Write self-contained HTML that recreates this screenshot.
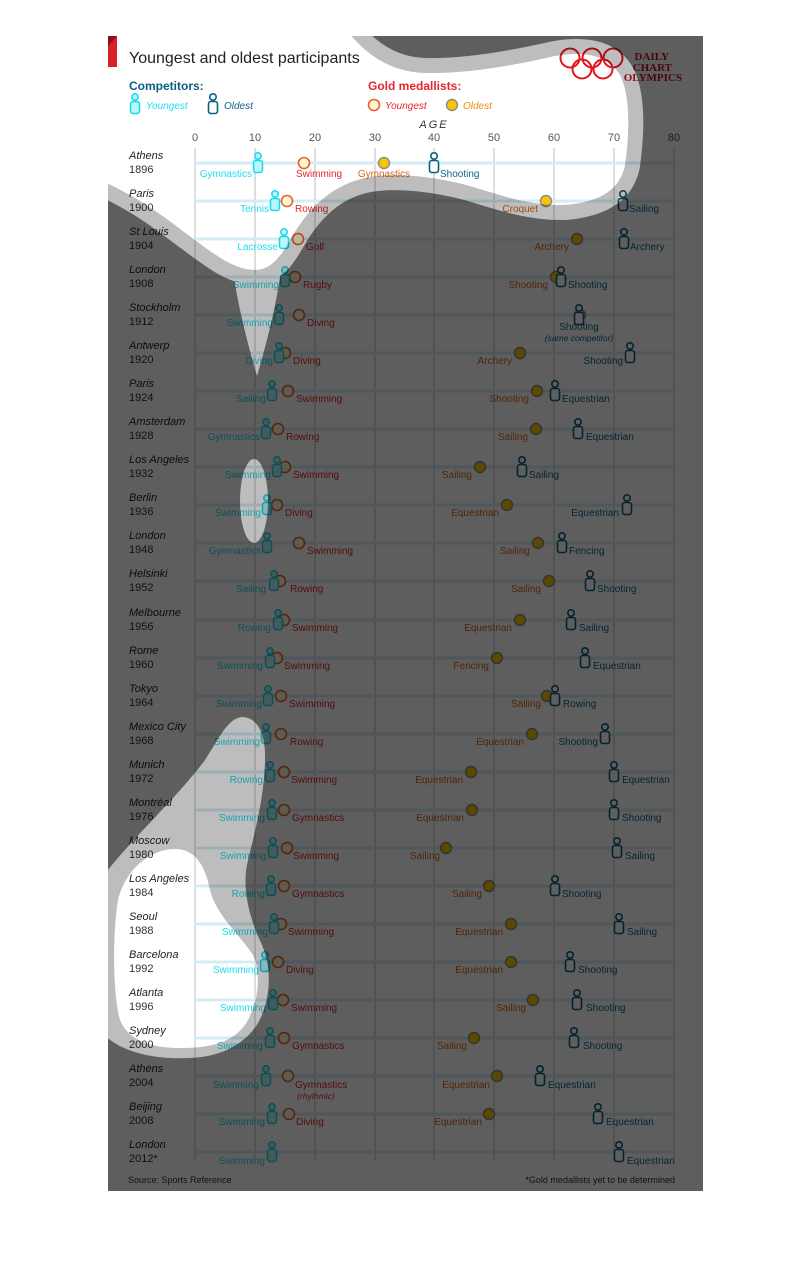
<!DOCTYPE html>
<html><head><meta charset="utf-8"><style>
html,body{margin:0;padding:0;background:#fff}
svg{display:block}
.t{font:16px "Liberation Sans",sans-serif;fill:#222}
.h{font:bold 12px "Liberation Sans",sans-serif}
.lg{font:italic 10px "Liberation Sans",sans-serif}
.tk{font:11px "Liberation Sans",sans-serif;fill:#555;text-anchor:middle}
.c{font:italic 11px "Liberation Sans",sans-serif;fill:#222}
.yr{font:11px "Liberation Sans",sans-serif;fill:#333}
.l{font:10px "Liberation Sans",sans-serif}
.ly{fill:#1fdcef;text-anchor:end}
.lo{fill:#0d6689}
.lr{fill:#e5252a}
.lgo{fill:#d86512;text-anchor:end}
.rl{fill:#d4ecf4}
.gy{fill:#fff6d6;stroke:#e8622a;stroke-width:1.6}
.go{fill:#f7c600;stroke:#8a8a8a;stroke-width:1.4}
</style></head><body>
<svg width="810" height="1286" viewBox="0 0 810 1286" xmlns="http://www.w3.org/2000/svg">
<defs>
<g id="fy"><circle cx="0" cy="-7" r="3.2" fill="#b8f7fc" stroke="#19d8ea" stroke-width="1.5"/><rect x="-4.5" y="-2.5" width="9" height="12" rx="2.5" fill="#b8f7fc" stroke="#19d8ea" stroke-width="1.5"/></g>
<g id="fo"><circle cx="0" cy="-7" r="3.2" fill="#fff" stroke="#0b5f80" stroke-width="1.6"/><rect x="-4.5" y="-2.5" width="9" height="12" rx="2.5" fill="#fff" stroke="#0b5f80" stroke-width="1.6"/></g>
<mask id="mA"><rect x="0" y="0" width="810" height="1286" fill="#fff"/>
<path d="M100,28 L345,28 C360,48 385,72 425,73 C470,74 520,64 555,56 C590,50 610,58 620,75 C630,95 630,130 625,165 C620,190 600,202 565,205 C530,206 500,195 470,186 C440,178 400,172 370,177 C335,183 310,205 290,240 C280,258 270,270 255,270 C235,270 215,255 195,240 C170,222 145,200 100,180 Z" fill="#000"/>
<path d="M175,849 C195,849 205,865 210,890 C216,915 240,935 253,955 C262,975 258,1005 245,1025 C230,1045 205,1048 180,1048 C150,1048 128,1040 120,1020 C112,990 113,930 118,900 C125,870 150,849 175,849 Z" fill="#000"/>
</mask>
<mask id="mB"><rect x="0" y="0" width="810" height="1286" fill="#fff"/>
<path d="M100,28 L345,28 C360,48 385,72 425,73 C470,74 520,64 555,56 C590,50 610,58 620,75 C630,95 630,130 625,165 C620,190 600,202 565,205 C530,206 500,195 470,186 C440,178 400,172 370,177 C335,183 310,205 290,240 C280,258 270,270 255,270 C235,270 215,255 195,240 C170,222 145,200 100,180 Z" fill="#000" stroke="#000" stroke-width="30"/>
<path d="M232,262 C236,300 248,345 257,376 C266,345 278,300 282,262 Z" fill="#000"/>
<ellipse cx="254" cy="501" rx="14" ry="42" fill="#000"/>
<path d="M243,717 C258,718 266,735 265,760 C264,800 255,830 247,865 C242,890 250,920 262,945 C272,968 270,995 262,1015 C252,1040 225,1057 190,1058 C150,1060 115,1050 100,1030 L100,880 C130,840 175,800 205,760 C218,740 228,717 243,717 Z" fill="#000"/>
</mask>
</defs>
<rect x="108" y="36" width="595" height="1155" fill="#fff"/>
<polygon points="108,36 117,36 117,67 108,67" fill="#d8202a"/>
<polygon points="108,36 117,36 108,46" fill="#8a1018"/>
<text x="129" y="63" class="t">Youngest and oldest participants</text>
<g fill="none" stroke="#e5141e" stroke-width="2"><circle cx="570" cy="58" r="9.5"/><circle cx="592" cy="58" r="9.5"/><circle cx="613" cy="58" r="9.5"/><circle cx="582" cy="69" r="9.5"/><circle cx="603" cy="69" r="9.5"/></g>
<g font-family="Liberation Serif,serif" font-weight="bold" font-size="11" fill="#c4161e" text-anchor="end"><text x="669" y="60">DAILY</text><text x="672" y="71">CHART</text><text x="682" y="81">OLYMPICS</text></g>
<text x="129" y="90" class="h" fill="#0b5d80">Competitors:</text>
<use href="#fy" x="135" y="104"/><text x="146" y="109" class="lg" fill="#1fdcef">Youngest</text>
<use href="#fo" x="213" y="104"/><text x="224" y="109" class="lg" fill="#0d6689">Oldest</text>
<text x="368" y="90" class="h" fill="#e5252a">Gold medallists:</text>
<circle cx="374" cy="105" r="5.5" class="gy"/><text x="385" y="109" class="lg" fill="#e5252a">Youngest</text>
<circle cx="452" cy="105" r="5.5" class="go"/><text x="463" y="109" class="lg" fill="#f08a10">Oldest</text>
<text x="434" y="128" font-family="Liberation Sans,sans-serif" font-style="italic" font-size="11" fill="#333" text-anchor="middle" letter-spacing="2">AGE</text>
<g class="tk"><text x="195" y="141">0</text><text x="255" y="141">10</text><text x="315" y="141">20</text><text x="375" y="141">30</text><text x="434" y="141">40</text><text x="494" y="141">50</text><text x="554" y="141">60</text><text x="614" y="141">70</text><text x="674" y="141">80</text></g>
<g stroke="#c8c8c8" stroke-width="1.2"><line x1="195" y1="148" x2="195" y2="1160"/><line x1="255" y1="148" x2="255" y2="1160"/><line x1="315" y1="148" x2="315" y2="1160"/><line x1="375" y1="148" x2="375" y2="1160"/><line x1="434" y1="148" x2="434" y2="1160"/><line x1="494" y1="148" x2="494" y2="1160"/><line x1="554" y1="148" x2="554" y2="1160"/><line x1="614" y1="148" x2="614" y2="1160"/><line x1="674" y1="148" x2="674" y2="1160"/></g>

<g transform="translate(0,163)"><rect x="195" y="-1.5" width="479" height="3" class="rl"/><text x="129" y="-4" class="c">Athens</text><text x="129" y="10" class="yr">1896</text>
<circle cx="304" r="5.5" class="gy"/><circle cx="384" r="5.5" class="go"/><use href="#fy" x="258"/><use href="#fo" x="434"/>
<g class="l"><text x="252" y="14" class="ly">Gymnastics</text><text x="296" y="14" class="lr">Swimming</text><text x="384" y="14" class="lgo" style="text-anchor:middle">Gymnastics</text><text x="440" y="14" class="lo">Shooting</text></g></g>

<g transform="translate(0,201)"><rect x="195" y="-1.5" width="479" height="3" class="rl"/><text x="129" y="-4" class="c">Paris</text><text x="129" y="10" class="yr">1900</text>
<circle cx="287" r="5.5" class="gy"/><circle cx="546" r="5.5" class="go"/><use href="#fy" x="275"/><use href="#fo" x="623"/>
<g class="l"><text x="269" y="11" class="ly">Tennis</text><text x="295" y="11" class="lr">Rowing</text><text x="538" y="11" class="lgo">Croquet</text><text x="629" y="11" class="lo">Sailing</text></g></g>

<g transform="translate(0,239)"><rect x="195" y="-1.5" width="479" height="3" class="rl"/><text x="129" y="-4" class="c">St Louis</text><text x="129" y="10" class="yr">1904</text>
<circle cx="298" r="5.5" class="gy"/><circle cx="577" r="5.5" class="go"/><use href="#fy" x="284"/><use href="#fo" x="624"/>
<g class="l"><text x="278" y="11" class="ly">Lacrosse</text><text x="306" y="11" class="lr">Golf</text><text x="569" y="11" class="lgo">Archery</text><text x="630" y="11" class="lo">Archery</text></g></g>

<g transform="translate(0,277)"><rect x="195" y="-1.5" width="479" height="3" class="rl"/><text x="129" y="-4" class="c">London</text><text x="129" y="10" class="yr">1908</text>
<circle cx="295" r="5.5" class="gy"/><circle cx="556" r="5.5" class="go"/><use href="#fy" x="285"/><use href="#fo" x="561"/>
<g class="l"><text x="279" y="11" class="ly">Swimming</text><text x="303" y="11" class="lr">Rugby</text><text x="548" y="11" class="lgo">Shooting</text><text x="568" y="11" class="lo">Shooting</text></g></g>

<g transform="translate(0,315)"><rect x="195" y="-1.5" width="479" height="3" class="rl"/><text x="129" y="-4" class="c">Stockholm</text><text x="129" y="10" class="yr">1912</text>
<circle cx="299" r="5.5" class="gy"/><circle cx="580" r="5.5" class="go"/><use href="#fy" x="279"/><use href="#fo" x="579"/>
<g class="l"><text x="273" y="11" class="ly">Swimming</text><text x="307" y="11" class="lr">Diving</text><text x="579" y="15" class="lo" text-anchor="middle">Shooting</text><text x="579" y="26" class="lo" text-anchor="middle" font-style="italic" font-size="8.5">(same competitor)</text></g></g>

<g transform="translate(0,353)"><rect x="195" y="-1.5" width="479" height="3" class="rl"/><text x="129" y="-4" class="c">Antwerp</text><text x="129" y="10" class="yr">1920</text>
<circle cx="285" r="5.5" class="gy"/><circle cx="520" r="5.5" class="go"/><use href="#fy" x="279"/><use href="#fo" x="630"/>
<g class="l"><text x="273" y="11" class="ly">Diving</text><text x="293" y="11" class="lr">Diving</text><text x="512" y="11" class="lgo">Archery</text><text x="623" y="11" class="lo" text-anchor="end">Shooting</text></g></g>

<g transform="translate(0,391)"><rect x="195" y="-1.5" width="479" height="3" class="rl"/><text x="129" y="-4" class="c">Paris</text><text x="129" y="10" class="yr">1924</text>
<circle cx="288" r="5.5" class="gy"/><circle cx="537" r="5.5" class="go"/><use href="#fy" x="272"/><use href="#fo" x="555"/>
<g class="l"><text x="266" y="11" class="ly">Sailing</text><text x="296" y="11" class="lr">Swimming</text><text x="529" y="11" class="lgo">Shooting</text><text x="562" y="11" class="lo">Equestrian</text></g></g>

<g transform="translate(0,429)"><rect x="195" y="-1.5" width="479" height="3" class="rl"/><text x="129" y="-4" class="c">Amsterdam</text><text x="129" y="10" class="yr">1928</text>
<circle cx="278" r="5.5" class="gy"/><circle cx="536" r="5.5" class="go"/><use href="#fy" x="266"/><use href="#fo" x="578"/>
<g class="l"><text x="260" y="11" class="ly">Gymnastics</text><text x="286" y="11" class="lr">Rowing</text><text x="528" y="11" class="lgo">Sailing</text><text x="586" y="11" class="lo">Equestrian</text></g></g>

<g transform="translate(0,467)"><rect x="195" y="-1.5" width="479" height="3" class="rl"/><text x="129" y="-4" class="c">Los Angeles</text><text x="129" y="10" class="yr">1932</text>
<circle cx="285" r="5.5" class="gy"/><circle cx="480" r="5.5" class="go"/><use href="#fy" x="277"/><use href="#fo" x="522"/>
<g class="l"><text x="271" y="11" class="ly">Swimming</text><text x="293" y="11" class="lr">Swimming</text><text x="472" y="11" class="lgo">Sailing</text><text x="529" y="11" class="lo">Sailing</text></g></g>

<g transform="translate(0,505)"><rect x="195" y="-1.5" width="479" height="3" class="rl"/><text x="129" y="-4" class="c">Berlin</text><text x="129" y="10" class="yr">1936</text>
<circle cx="277" r="5.5" class="gy"/><circle cx="507" r="5.5" class="go"/><use href="#fy" x="267"/><use href="#fo" x="627"/>
<g class="l"><text x="261" y="11" class="ly">Swimming</text><text x="285" y="11" class="lr">Diving</text><text x="499" y="11" class="lgo">Equestrian</text><text x="619" y="11" class="lo" text-anchor="end">Equestrian</text></g></g>

<g transform="translate(0,543)"><rect x="195" y="-1.5" width="479" height="3" class="rl"/><text x="129" y="-4" class="c">London</text><text x="129" y="10" class="yr">1948</text>
<circle cx="299" r="5.5" class="gy"/><circle cx="538" r="5.5" class="go"/><use href="#fy" x="267"/><use href="#fo" x="562"/>
<g class="l"><text x="261" y="11" class="ly">Gymnastics</text><text x="307" y="11" class="lr">Swimming</text><text x="530" y="11" class="lgo">Sailing</text><text x="569" y="11" class="lo">Fencing</text></g></g>

<g transform="translate(0,581)"><rect x="195" y="-1.5" width="479" height="3" class="rl"/><text x="129" y="-4" class="c">Helsinki</text><text x="129" y="10" class="yr">1952</text>
<circle cx="280" r="5.5" class="gy"/><circle cx="549" r="5.5" class="go"/><use href="#fy" x="274"/><use href="#fo" x="590"/>
<g class="l"><text x="266" y="11" class="ly">Sailing</text><text x="290" y="11" class="lr">Rowing</text><text x="541" y="11" class="lgo">Sailing</text><text x="597" y="11" class="lo">Shooting</text></g></g>

<g transform="translate(0,620)"><rect x="195" y="-1.5" width="479" height="3" class="rl"/><text x="129" y="-4" class="c">Melbourne</text><text x="129" y="10" class="yr">1956</text>
<circle cx="284" r="5.5" class="gy"/><circle cx="520" r="5.5" class="go"/><use href="#fy" x="278"/><use href="#fo" x="571"/>
<g class="l"><text x="271" y="11" class="ly">Rowing</text><text x="292" y="11" class="lr">Swimming</text><text x="512" y="11" class="lgo">Equestrian</text><text x="579" y="11" class="lo">Sailing</text></g></g>

<g transform="translate(0,658)"><rect x="195" y="-1.5" width="479" height="3" class="rl"/><text x="129" y="-4" class="c">Rome</text><text x="129" y="10" class="yr">1960</text>
<circle cx="277" r="5.5" class="gy"/><circle cx="497" r="5.5" class="go"/><use href="#fy" x="270"/><use href="#fo" x="585"/>
<g class="l"><text x="263" y="11" class="ly">Swimming</text><text x="284" y="11" class="lr">Swimming</text><text x="489" y="11" class="lgo">Fencing</text><text x="593" y="11" class="lo">Equestrian</text></g></g>

<g transform="translate(0,696)"><rect x="195" y="-1.5" width="479" height="3" class="rl"/><text x="129" y="-4" class="c">Tokyo</text><text x="129" y="10" class="yr">1964</text>
<circle cx="281" r="5.5" class="gy"/><circle cx="547" r="5.5" class="go"/><use href="#fy" x="268"/><use href="#fo" x="555"/>
<g class="l"><text x="262" y="11" class="ly">Swimming</text><text x="289" y="11" class="lr">Swimming</text><text x="541" y="11" class="lgo">Sailing</text><text x="563" y="11" class="lo">Rowing</text></g></g>

<g transform="translate(0,734)"><rect x="195" y="-1.5" width="479" height="3" class="rl"/><text x="129" y="-4" class="c">Mexico City</text><text x="129" y="10" class="yr">1968</text>
<circle cx="281" r="5.5" class="gy"/><circle cx="532" r="5.5" class="go"/><use href="#fy" x="266"/><use href="#fo" x="605"/>
<g class="l"><text x="260" y="11" class="ly">Swimming</text><text x="290" y="11" class="lr">Rowing</text><text x="524" y="11" class="lgo">Equestrian</text><text x="598" y="11" class="lo" text-anchor="end">Shooting</text></g></g>

<g transform="translate(0,772)"><rect x="195" y="-1.5" width="479" height="3" class="rl"/><text x="129" y="-4" class="c">Munich</text><text x="129" y="10" class="yr">1972</text>
<circle cx="284" r="5.5" class="gy"/><circle cx="471" r="5.5" class="go"/><use href="#fy" x="270"/><use href="#fo" x="614"/>
<g class="l"><text x="263" y="11" class="ly">Rowing</text><text x="291" y="11" class="lr">Swimming</text><text x="463" y="11" class="lgo">Equestrian</text><text x="622" y="11" class="lo">Equestrian</text></g></g>

<g transform="translate(0,810)"><rect x="195" y="-1.5" width="479" height="3" class="rl"/><text x="129" y="-4" class="c">Montréal</text><text x="129" y="10" class="yr">1976</text>
<circle cx="284" r="5.5" class="gy"/><circle cx="472" r="5.5" class="go"/><use href="#fy" x="272"/><use href="#fo" x="614"/>
<g class="l"><text x="265" y="11" class="ly">Swimming</text><text x="292" y="11" class="lr">Gymnastics</text><text x="464" y="11" class="lgo">Equestrian</text><text x="622" y="11" class="lo">Shooting</text></g></g>

<g transform="translate(0,848)"><rect x="195" y="-1.5" width="479" height="3" class="rl"/><text x="129" y="-4" class="c">Moscow</text><text x="129" y="10" class="yr">1980</text>
<circle cx="287" r="5.5" class="gy"/><circle cx="446" r="5.5" class="go"/><use href="#fy" x="273"/><use href="#fo" x="617"/>
<g class="l"><text x="266" y="11" class="ly">Swimming</text><text x="293" y="11" class="lr">Swimming</text><text x="440" y="11" class="lgo">Sailing</text><text x="625" y="11" class="lo">Sailing</text></g></g>

<g transform="translate(0,886)"><rect x="195" y="-1.5" width="479" height="3" class="rl"/><text x="129" y="-4" class="c">Los Angeles</text><text x="129" y="10" class="yr">1984</text>
<circle cx="284" r="5.5" class="gy"/><circle cx="489" r="5.5" class="go"/><use href="#fy" x="271"/><use href="#fo" x="555"/>
<g class="l"><text x="265" y="11" class="ly">Rowing</text><text x="292" y="11" class="lr">Gymnastics</text><text x="482" y="11" class="lgo">Sailing</text><text x="562" y="11" class="lo">Shooting</text></g></g>

<g transform="translate(0,924)"><rect x="195" y="-1.5" width="479" height="3" class="rl"/><text x="129" y="-4" class="c">Seoul</text><text x="129" y="10" class="yr">1988</text>
<circle cx="281" r="5.5" class="gy"/><circle cx="511" r="5.5" class="go"/><use href="#fy" x="274"/><use href="#fo" x="619"/>
<g class="l"><text x="268" y="11" class="ly">Swimming</text><text x="288" y="11" class="lr">Swimming</text><text x="503" y="11" class="lgo">Equestrian</text><text x="627" y="11" class="lo">Sailing</text></g></g>

<g transform="translate(0,962)"><rect x="195" y="-1.5" width="479" height="3" class="rl"/><text x="129" y="-4" class="c">Barcelona</text><text x="129" y="10" class="yr">1992</text>
<circle cx="278" r="5.5" class="gy"/><circle cx="511" r="5.5" class="go"/><use href="#fy" x="265"/><use href="#fo" x="570"/>
<g class="l"><text x="259" y="11" class="ly">Swimming</text><text x="286" y="11" class="lr">Diving</text><text x="503" y="11" class="lgo">Equestrian</text><text x="578" y="11" class="lo">Shooting</text></g></g>

<g transform="translate(0,1000)"><rect x="195" y="-1.5" width="479" height="3" class="rl"/><text x="129" y="-4" class="c">Atlanta</text><text x="129" y="10" class="yr">1996</text>
<circle cx="283" r="5.5" class="gy"/><circle cx="533" r="5.5" class="go"/><use href="#fy" x="273"/><use href="#fo" x="577"/>
<g class="l"><text x="266" y="11" class="ly">Swimming</text><text x="291" y="11" class="lr">Swimming</text><text x="526" y="11" class="lgo">Sailing</text><text x="586" y="11" class="lo">Shooting</text></g></g>

<g transform="translate(0,1038)"><rect x="195" y="-1.5" width="479" height="3" class="rl"/><text x="129" y="-4" class="c">Sydney</text><text x="129" y="10" class="yr">2000</text>
<circle cx="284" r="5.5" class="gy"/><circle cx="474" r="5.5" class="go"/><use href="#fy" x="270"/><use href="#fo" x="574"/>
<g class="l"><text x="263" y="11" class="ly">Swimming</text><text x="292" y="11" class="lr">Gymnastics</text><text x="467" y="11" class="lgo">Sailing</text><text x="583" y="11" class="lo">Shooting</text></g></g>

<g transform="translate(0,1076)"><rect x="195" y="-1.5" width="479" height="3" class="rl"/><text x="129" y="-4" class="c">Athens</text><text x="129" y="10" class="yr">2004</text>
<circle cx="288" r="5.5" class="gy"/><circle cx="497" r="5.5" class="go"/><use href="#fy" x="266"/><use href="#fo" x="540"/>
<g class="l"><text x="259" y="12" class="ly">Swimming</text><text x="295" y="12" class="lr">Gymnastics</text><text x="316" y="23" class="lr" text-anchor="middle" font-style="italic" font-size="8.5">(rhythmic)</text><text x="490" y="12" class="lgo">Equestrian</text><text x="548" y="12" class="lo">Equestrian</text></g></g>

<g transform="translate(0,1114)"><rect x="195" y="-1.5" width="479" height="3" class="rl"/><text x="129" y="-4" class="c">Beijing</text><text x="129" y="10" class="yr">2008</text>
<circle cx="289" r="5.5" class="gy"/><circle cx="489" r="5.5" class="go"/><use href="#fy" x="272"/><use href="#fo" x="598"/>
<g class="l"><text x="265" y="11" class="ly">Swimming</text><text x="296" y="11" class="lr">Diving</text><text x="482" y="11" class="lgo">Equestrian</text><text x="606" y="11" class="lo">Equestrian</text></g></g>

<g transform="translate(0,1152)"><rect x="195" y="-1.5" width="479" height="3" class="rl"/><text x="129" y="-4" class="c" font-weight="bold">London</text><text x="129" y="10" class="yr" font-weight="bold">2012*</text>
<use href="#fy" x="272"/><use href="#fo" x="619"/>
<g class="l"><text x="265" y="12" class="ly">Swimming</text><text x="627" y="12" class="lo">Equestrian</text></g></g>

<text x="128" y="1183" font-family="Liberation Sans,sans-serif" font-size="9" fill="#333">Source: Sports Reference</text>
<text x="675" y="1183" font-family="Liberation Sans,sans-serif" font-size="9" fill="#333" text-anchor="end">*Gold medallists yet to be determined</text>

<rect x="108" y="36" width="595" height="1155" fill="#000" fill-opacity="0.26" mask="url(#mA)"/>
<rect x="108" y="36" width="595" height="1155" fill="#000" fill-opacity="0.5" mask="url(#mB)"/>
</svg>
</body></html>
